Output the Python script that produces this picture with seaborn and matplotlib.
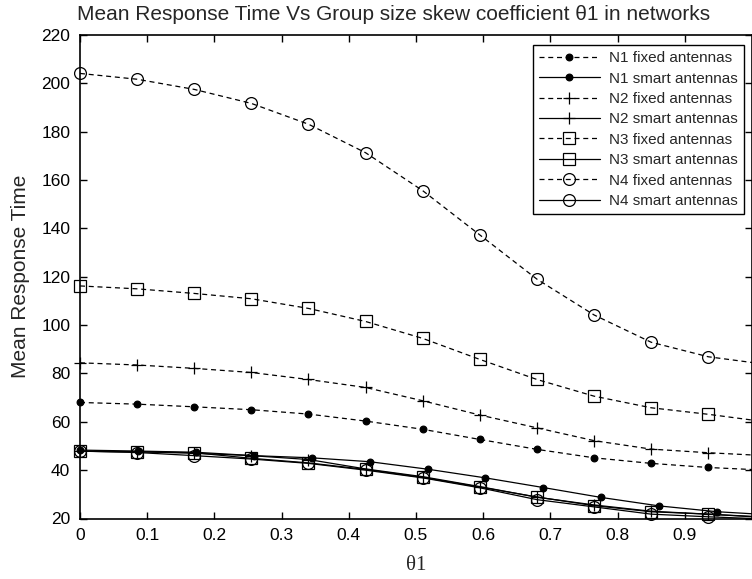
import matplotlib
matplotlib.use("Agg")
import matplotlib.pyplot as plt
import seaborn as sns
import pandas as pd

# x positions of the samples (last point lies past the right edge, as in the original)
theta = [0, 0.085, 0.17, 0.255, 0.34, 0.425, 0.51, 0.595, 0.68, 0.765, 0.85, 0.935, 1.02]
theta_n1_smart = [0, 0.0862, 0.1724, 0.2586, 0.3448, 0.431, 0.5172, 0.6034, 0.6896,
                  0.7758, 0.862, 0.9482, 1.0344]

n1_fixed = [68.0, 67.3, 66.2, 65.0, 63.2, 60.3, 56.9, 52.7, 48.6, 45.1, 42.8, 41.1, 40.0]
n1_smart = [48.3, 47.9, 47.4, 46.0, 45.1, 43.5, 40.4, 36.8, 32.8, 28.7, 25.2, 22.8, 21.4]
n2_fixed = [84.4, 83.5, 82.1, 80.4, 77.5, 74.2, 68.7, 62.8, 57.5, 52.2, 48.7, 47.2, 46.0]
n2_smart = [47.8, 47.6, 47.0, 46.0, 44.4, 40.5, 37.3, 33.2, 28.8, 25.6, 23.0, 21.8, 20.6]
n3_fixed = [116.2, 115.0, 113.1, 110.9, 106.9, 101.5, 94.5, 85.8, 77.5, 70.6, 65.8, 63.1, 60.0]
n3_smart = [47.8, 47.6, 47.2, 44.9, 43.0, 40.3, 37.0, 33.0, 28.9, 25.3, 22.8, 21.8, 20.4]
n4_fixed = [204.1, 201.7, 197.5, 191.7, 183.1, 171.3, 155.6, 137.3, 119.0, 104.2, 92.9, 86.9, 83.8]
n4_smart = [47.9, 47.3, 46.0, 44.6, 42.8, 40.0, 36.8, 32.7, 27.8, 24.8, 21.8, 20.7, 19.8]

labels = ['N1 fixed antennas', 'N1 smart antennas', 'N2 fixed antennas', 'N2 smart antennas',
          'N3 fixed antennas', 'N3 smart antennas', 'N4 fixed antennas', 'N4 smart antennas']
xticks = [0, 0.1, 0.2, 0.3, 0.4, 0.5, 0.6, 0.7, 0.8, 0.9]
xticklabels = ['0', '0.1', '0.2', '0.3', '0.4', '0.5', '0.6', '0.7', '0.8', '0.9']
yticks = [20, 40, 60, 80, 100, 120, 140, 160, 180, 200, 220]

series = [
    (theta, n1_fixed, 'o', '--', 'k', 4.8),
    (theta_n1_smart, n1_smart, 'o', '-', 'k', 4.8),
    (theta, n2_fixed, '+', '--', 'none', 8),
    (theta, n2_smart, '+', '-', 'none', 8),
    (theta, n3_fixed, 's', '--', 'none', 8),
    (theta, n3_smart, 's', '-', 'none', 8),
    (theta, n4_fixed, 'o', '--', 'none', 8.5),
    (theta, n4_smart, 'o', '-', 'none', 8.5),
]

sns.set_style("ticks")
plt.rcParams['font.family'] = ['Liberation Sans', 'DejaVu Sans']

fig = plt.figure(figsize=(7.52, 5.79), dpi=100)
ax = fig.add_axes([80 / 752, 1 - 518.5 / 579, 672 / 752, (518.5 - 35) / 579])

for (xs, ys, mk, ls, fc, ms), lab in zip(series, labels):
    df = pd.DataFrame({'theta': xs, 'time': ys})
    line_kw = dict(linestyle=(0, (4, 3)) if ls == '--' else '-')
    sns.lineplot(data=df, x='theta', y='time', ax=ax, color='k', marker=mk,
                 markersize=ms, markerfacecolor=fc, markeredgecolor='k',
                 markeredgewidth=0.9, linewidth=0.9, errorbar=None, sort=False,
                 label=lab, clip_on=False, **line_kw)

ax.set_xlim(0, 1)
ax.set_ylim(20, 220)
ax.set_xticks(xticks)
ax.set_xticklabels(xticklabels)
ax.set_yticks(yticks)
ax.tick_params(direction='in', length=5, width=1, labelsize=12.5, colors='k',
               top=True, right=True, pad=7)
for sp in ax.spines.values():
    sp.set_linewidth(1.2)
    sp.set_color('k')

ax.set_xlabel('θ1', fontsize=15, family=['Liberation Serif', 'DejaVu Serif'], labelpad=9)
ax.set_ylabel('Mean Response Time', fontsize=15, labelpad=8)
fig.text(394 / 752, 1 - 14 / 579, 'Mean Response Time Vs Group size skew coefficient θ1 in networks',
         ha='center', va='center', fontsize=15)

leg = ax.legend(loc='upper right', bbox_to_anchor=(744 / 752, 1 - 45 / 579),
                bbox_transform=fig.transFigure, borderaxespad=0, fontsize=11,
                frameon=True, fancybox=False, framealpha=1, edgecolor='k',
                handlelength=4.0, handletextpad=0.6, labelspacing=0.42, borderpad=0.4)
leg.get_frame().set_linewidth(1.0)

fig.savefig('out.png', dpi=100)
